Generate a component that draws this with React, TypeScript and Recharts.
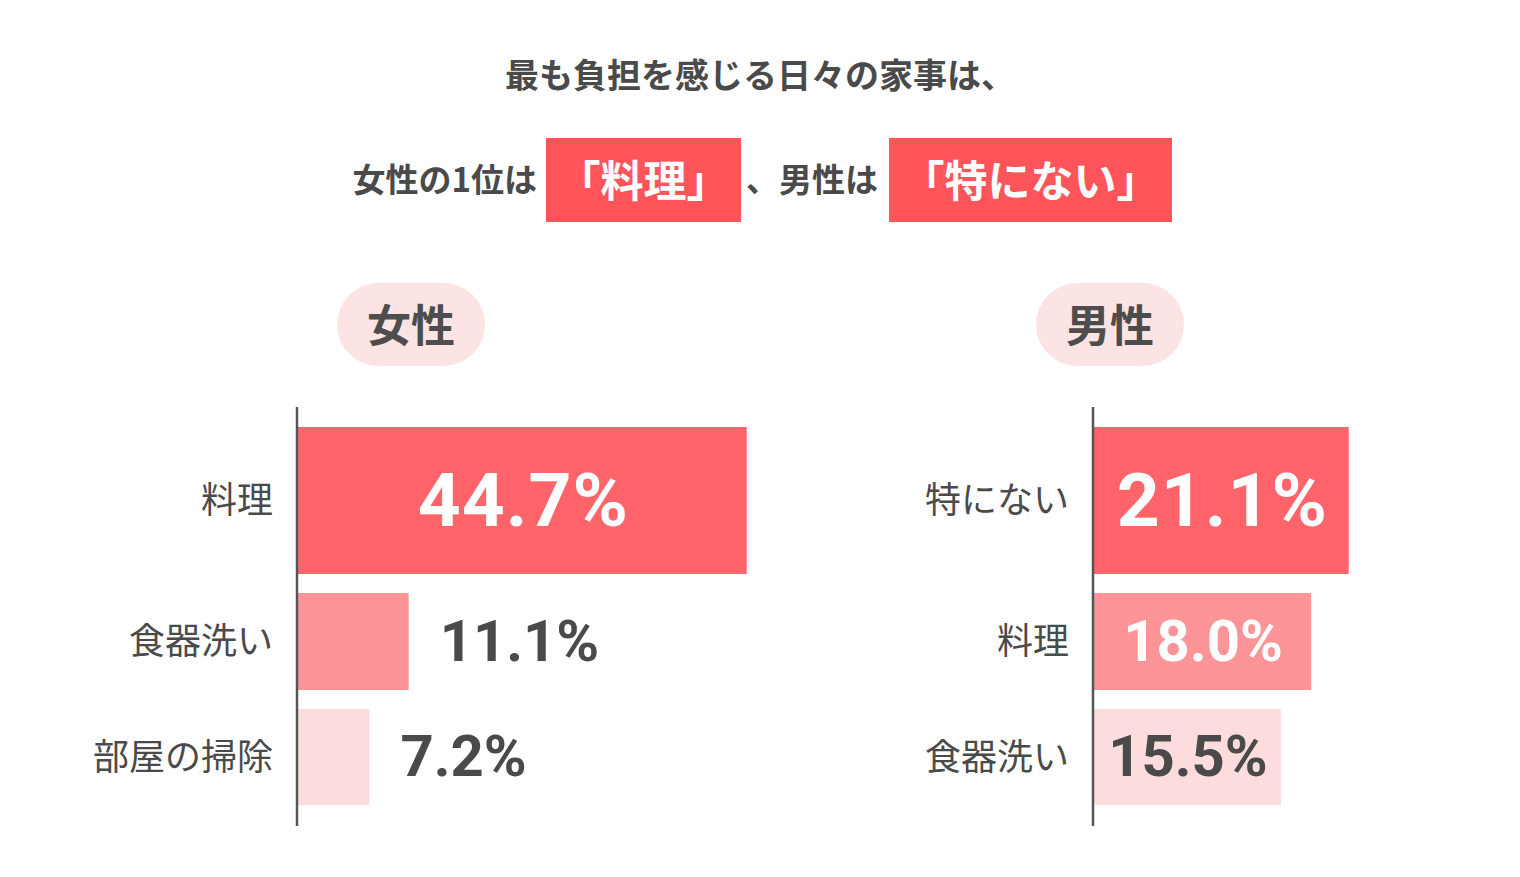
import React from 'react';
import { BarChart, Bar, XAxis, YAxis, LabelList } from 'recharts';

// ---- text ----
const titleLine1 = '最も負担を感じる日々の家事は、';
const headlinePrefix = '女性の1位は';
const femaleTop = '「料理」';
const headlineMiddle = '、男性は';
const maleTop = '「特にない」';
const femaleHeading = '女性';
const maleHeading = '男性';

// ---- data ----
const femaleCategories = ['料理', '食器洗い', '部屋の掃除'];
const femaleValues = [44.7, 11.1, 7.2];
const maleCategories = ['特にない', '料理', '食器洗い'];
const maleValues = [21.1, 18.0, 15.5];
const femaleAxisMax = 50;
const maleAxisMax = 25;

// ---- styles ----
const barColors = ['#ff646b', '#fd9598', '#fddcdd'];
const insideLabelColors = ['#ffffff', '#ffffff', '#4a4a4a'];
const rowLayout = [
  { height: 176, padTop: 20, padBottom: 9, fontSize: 75, spacing: 1 },
  { height: 117, padTop: 10, padBottom: 10, fontSize: 58, spacing: 0 },
  { height: 126, padTop: 9, padBottom: 21, fontSize: 58, spacing: 0 },
];

const JP = '"Noto Sans CJK JP", "Noto Sans", sans-serif';
const NUM = 'Roboto, "Noto Sans", sans-serif';
const DARK = '#4a4a4a';

function estimateWidth(text: string, fs: number, spacing: number) {
  let w = 0;
  for (const c of text) {
    if (c === '.') w += 0.27;
    else if (c === '%') w += 0.73;
    else w += 0.5615;
  }
  return w * fs + spacing * (text.length - 1);
}

function ValueLabel(props: any) {
  const vb = props.viewBox && props.viewBox.width != null ? props.viewBox : props;
  const x = Number(vb.x);
  const y = Number(vb.y);
  const w = Number(vb.width);
  const h = Number(vb.height);
  const idx = props.rowIndex as number;
  const fs = rowLayout[idx].fontSize;
  const spacing = rowLayout[idx].spacing;
  const text = Number(props.value).toFixed(1) + '%';
  const tw = estimateWidth(text, fs, spacing);
  const inside = tw + 8 < w;
  const cy = y + h / 2;
  const baseline = cy + fs * 0.355 - 1.5;
  return (
    <text
      x={inside ? x + w / 2 + spacing / 2 + 1 : x + w + 31}
      y={baseline}
      textAnchor={inside ? 'middle' : 'start'}
      fill={inside ? insideLabelColors[idx] : DARK}
      fontSize={fs}
      fontWeight={700}
      fontFamily={NUM}
      letterSpacing={spacing}
    >
      {text}
    </text>
  );
}

function Row(props: { name: string; value: number; index: number; xMax: number; axisWidth: number; plotWidth: number }) {
  const { name, value, index, xMax, axisWidth, plotWidth } = props;
  const lay = rowLayout[index];
  const data = [{ name, value }];
  return (
    <BarChart
      width={axisWidth + plotWidth}
      height={lay.height}
      data={data}
      layout="vertical"
      margin={{ top: 0, right: 0, bottom: 0, left: 0 }}
      barCategoryGap={0}
    >
      <XAxis type="number" domain={[0, xMax]} hide />
      <Bar dataKey="value" fill={barColors[index]} isAnimationActive={false}>
        <LabelList dataKey="value" content={(p: any) => <ValueLabel {...p} rowIndex={index} />} />
      </Bar>
      <YAxis
        type="category"
        dataKey="name"
        width={axisWidth}
        padding={{ top: lay.padTop, bottom: lay.padBottom }}
        axisLine={{ stroke: '#555555', strokeWidth: 2.5 }}
        tickLine={false}
        tickSize={0}
        tickMargin={24}
        tick={{ fontSize: 36, fill: DARK, fontFamily: JP }}
      />
    </BarChart>
  );
}

function Panel(props: { categories: string[]; values: number[]; xMax: number; axisWidth: number; plotWidth: number; left: number; top: number }) {
  const { categories, values, xMax, axisWidth, plotWidth, left, top } = props;
  return (
    <div style={{ position: 'absolute', left, top }}>
      {categories.map((c, i) => (
        <div key={c} style={{ height: rowLayout[i].height, lineHeight: 0 }}>
          <Row name={c} value={values[i]} index={i} xMax={xMax} axisWidth={axisWidth} plotWidth={plotWidth} />
        </div>
      ))}
    </div>
  );
}

function Pill(props: { text: string; left: number; top: number }) {
  return (
    <div
      style={{
        position: 'absolute',
        left: props.left,
        top: props.top,
        width: 148,
        height: 83,
        borderRadius: 42,
        background: '#fde4e4',
        color: '#4d4d4d',
        fontFamily: JP,
        fontWeight: 700,
        fontSize: 44,
        lineHeight: '81px',
        textAlign: 'center',
      }}
    >
      {props.text}
    </div>
  );
}

function Box(props: { text: string; left: number; width: number }) {
  return (
    <div
      style={{
        position: 'absolute',
        left: props.left,
        top: 138,
        width: props.width,
        height: 84,
        background: '#ff555a',
        color: '#ffffff',
        fontFamily: JP,
        fontWeight: 700,
        fontSize: 43,
        lineHeight: '80px',
        textAlign: 'center',
        whiteSpace: 'nowrap',
      }}
    >
      {props.text}
    </div>
  );
}

export default function App() {
  const textStyle: React.CSSProperties = {
    position: 'absolute',
    fontFamily: JP,
    fontWeight: 700,
    color: DARK,
    whiteSpace: 'nowrap',
  };
  return (
    <div style={{ position: 'absolute', left: 0, top: 0, width: 1520, height: 877, background: '#ffffff', overflow: 'hidden' }}>
      <div style={{ ...textStyle, left: 0, top: 48, width: 1520, height: 52, lineHeight: '52px', fontSize: 34, textAlign: 'center' }}>
        {titleLine1}
      </div>
      <div style={{ ...textStyle, left: 0, top: 152, width: 537, height: 52, lineHeight: '52px', fontSize: 33, textAlign: 'right' }}>
        {headlinePrefix}
      </div>
      <Box text={femaleTop} left={546} width={195} />
      <div style={{ ...textStyle, left: 746, top: 152, height: 52, lineHeight: '52px', fontSize: 33 }}>
        {headlineMiddle}
      </div>
      <Box text={maleTop} left={889} width={283} />

      <Pill text={femaleHeading} left={337} top={283} />
      <Pill text={maleHeading} left={1036} top={283} />

      <Panel categories={femaleCategories} values={femaleValues} xMax={femaleAxisMax} axisWidth={297} plotWidth={503} left={0} top={407} />
      <Panel categories={maleCategories} values={maleValues} xMax={maleAxisMax} axisWidth={293} plotWidth={303} left={800} top={407} />
    </div>
  );
}
